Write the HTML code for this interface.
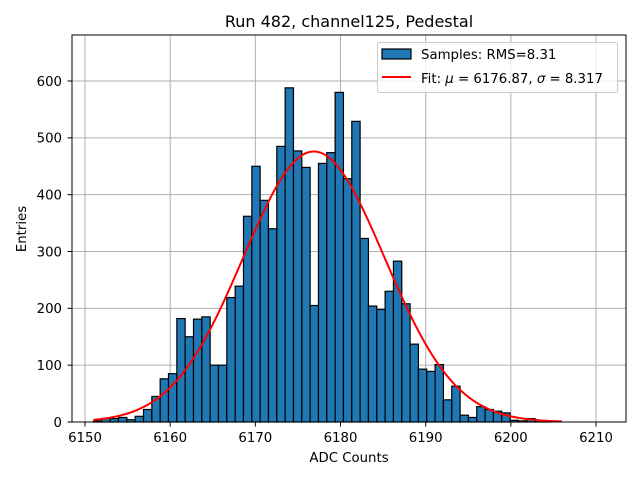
<!DOCTYPE html>
<html><head><meta charset="utf-8"><style>
body{margin:0;background:#fff;font-family:"DejaVu Sans","Liberation Sans",sans-serif}
svg text{font-family:"DejaVu Sans","Liberation Sans",sans-serif}
</style></head><body>
<svg id="chart" width="640" height="480" xmlns="http://www.w3.org/2000/svg"></svg>
<script>
const counts=[2,6,6,8,4,10,22,45,76,85,182,150,181,185,100,100,219,239,362,450,390,340,485,588,477,448,205,455,474,580,428,529,323,204,198,230,283,208,137,93,89,101,39,63,12,8,27,22,19,16,3,2,6,1,1];
const binStart=[6151];
const binEnd=[6204.8];
const xTicks=[6150,6160,6170,6180,6190,6200,6210];
const yTicks=[0,100,200,300,400,500,600];
const fitParams=[6176.87,8.317,476];
const NS='http://www.w3.org/2000/svg';
const svg=document.getElementById('chart');
const L=72,R=626,T=35,B=422;
const X=v=>85+(v-6150)*8.517;
const Y=v=>B-v*0.5683;
function mk(tag,attrs,parent){const e=document.createElementNS(NS,tag);for(const k in attrs)e.setAttribute(k,attrs[k]);(parent||svg).appendChild(e);return e;}
const grid=mk('g',{});


xTicks.forEach(t=>mk('line',{x1:X(t),x2:X(t),y1:T,y2:B,stroke:'#b0b0b0','stroke-width':1},grid));
yTicks.forEach(t=>mk('line',{x1:L,x2:R,y1:Y(t),y2:Y(t),stroke:'#b0b0b0','stroke-width':1},grid));
const bars=mk('g',{});


const w=(binEnd[0]-binStart[0])/counts.length;
counts.forEach((c,i)=>{
 const x0=X(binStart[0]+i*w),x1=X(binStart[0]+(i+1)*w);
 const r=mk('rect',{x:x0,y:Y(c),width:x1-x0,height:B-Y(c),fill:'#1f77b4',stroke:'#000','stroke-width':1.2},bars);
 
 
});
let d='';
for(let i=0;i<=300;i++){const v=binStart[0]+(6206-binStart[0])*i/300;
 const y=fitParams[2]*Math.exp(-0.5*Math.pow((v-fitParams[0])/fitParams[1],2));
 d+=(i?'L':'M')+X(v).toFixed(2)+' '+Y(y).toFixed(2);}
const fit=mk('path',{d:d,fill:'none',stroke:'#ff0000','stroke-width':2});


const fr=mk('rect',{x:L,y:T,width:R-L,height:B-T,fill:'none',stroke:'#000','stroke-width':1});


xTicks.forEach(t=>{mk('line',{x1:X(t),x2:X(t),y1:B,y2:B+4.5,stroke:'#000','stroke-width':1});
 const tx=mk('text',{x:X(t),y:B+20,'text-anchor':'middle','font-size':13.3});tx.textContent=t;
 
 });
yTicks.forEach(t=>{mk('line',{x1:L-4.5,x2:L,y1:Y(t),y2:Y(t),stroke:'#000','stroke-width':1});
 const tx=mk('text',{x:L-10,y:Y(t)+4.8,'text-anchor':'end','font-size':13.3});tx.textContent=t;
 
 });
</script>
<svg width="640" height="480" style="position:absolute;left:0;top:0">
<text x="349" y="27" text-anchor="middle" font-size="16">Run 482, channel125, Pedestal</text>
<text x="349" y="462" text-anchor="middle" font-size="13.3">ADC Counts</text>
<text x="26" y="229" text-anchor="middle" font-size="13.3" transform="rotate(-90 26 229)">Entries</text>
<g>
<rect x="377.5" y="42.5" width="240" height="50" rx="2" fill="#fff" fill-opacity="0.8" stroke="#ccc" stroke-width="1"/>
<rect x="382" y="49" width="29" height="10" fill="#1f77b4" stroke="#000" stroke-width="1.2"/>
<text x="421" y="59" font-size="13.3">Samples: RMS=8.31</text>
<line x1="382" y1="77" x2="411" y2="77" stroke="#ff0000" stroke-width="2"/>
<text x="421" y="83" font-size="13.3">Fit: <tspan font-style="italic">μ</tspan> = 6176.87, <tspan font-style="italic">σ</tspan> = 8.317</text>
</g>
</svg>
</body></html>
